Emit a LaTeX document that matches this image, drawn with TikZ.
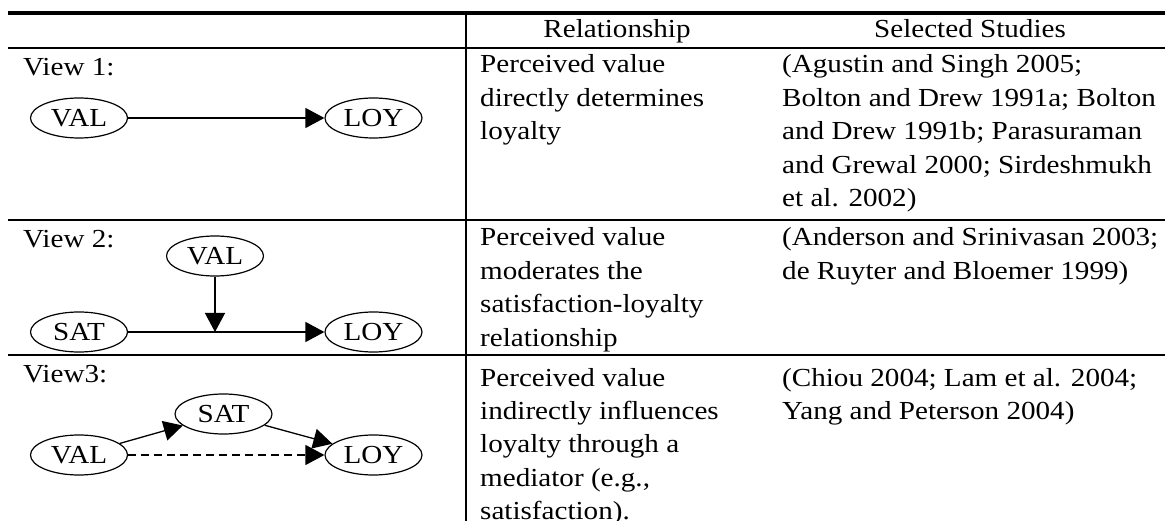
\documentclass[tikz,border=0pt]{standalone}
\usepackage{fontspec}
\setmainfont[FakeStretch=1.12]{Liberation Serif}
\usetikzlibrary{shapes.geometric, arrows.meta}

\begin{document}
\begin{tikzpicture}[x=1pt, y=-1pt,
    construct/.style={draw, ellipse, line width=1.2pt, minimum width=97pt, minimum height=40pt, inner sep=0pt, font=\fontsize{26}{30}\selectfont},
    path/.style={line width=1.3pt, -{Triangle[length=19pt, width=20pt]}},
    cell/.style={anchor=base west, align=left, inner sep=0pt, font=\fontsize{26}{33.4}\selectfont},
    rule/.style={line width=1.8pt}]
    \useasboundingbox (0,0) rectangle (1165,521);

    % Table rules
    \draw[line width=4pt] (8,12.7) -- (1165,12.7);
    \draw[rule] (8,48) -- (1165,48);
    \draw[rule] (8,220) -- (1165,220);
    \draw[rule] (8,355) -- (1165,355);
    \draw[rule] (466,12.7) -- (466,521);

    % Header
    \node[cell, anchor=base] (hrel) at (617,38) {Relationship};
    \node[cell, anchor=base] (hstu) at (970,38) {Selected Studies};

    % View 1: direct effect (cells are placed at the baseline of their last line)
    \node[cell] (view1) at (23,76) {View 1:};
    \node[construct] (val1) at (79,118) {VAL};
    \node[construct] (loy1) at (373.5,118) {LOY};
    \draw[path] (val1) -- (loy1);
    \node[cell] (rel1) at (480,139.8) {Perceived value\\directly determines\\loyalty};
    \node[cell] (stu1) at (782,206.6) {(Agustin and Singh 2005;\\Bolton and Drew 1991a; Bolton\\and Drew 1991b; Parasuraman\\and Grewal 2000; Sirdeshmukh\\et al. 2002)};

    % View 2: moderation
    \node[cell] (view2) at (23,248) {View 2:};
    \node[construct] (val2) at (215,256) {VAL};
    \node[construct] (sat2) at (79,332) {SAT};
    \node[construct] (loy2) at (373.5,332) {LOY};
    \draw[path] (sat2) -- (loy2);
    \draw[path] (val2) -- (val2 |- sat2);
    \node[cell] (rel2) at (480,346.2) {Perceived value\\moderates the\\satisfaction-loyalty\\relationship};
    \node[cell] (stu2) at (782,279.4) {(Anderson and Srinivasan 2003;\\de Ruyter and Bloemer 1999)};

    % View 3: mediation
    \node[cell] (view3) at (23,382) {View3:};
    \node[construct] (sat3) at (223.5,414) {SAT};
    \node[construct] (val3) at (79,455) {VAL};
    \node[construct] (loy3) at (373.5,455) {LOY};
    \draw[path] (val3) -- (sat3);
    \draw[path] (sat3) -- (loy3);
    \draw[path, dash pattern=on 8pt off 5pt] (val3) -- (loy3);
    \node[cell] (rel3) at (480,519.6) {Perceived value\\indirectly influences\\loyalty through a\\mediator (e.g.,\\satisfaction).};
    \node[cell] (stu3) at (782,419.4) {(Chiou 2004; Lam et al. 2004;\\Yang and Peterson 2004)};
\end{tikzpicture}
\end{document}
